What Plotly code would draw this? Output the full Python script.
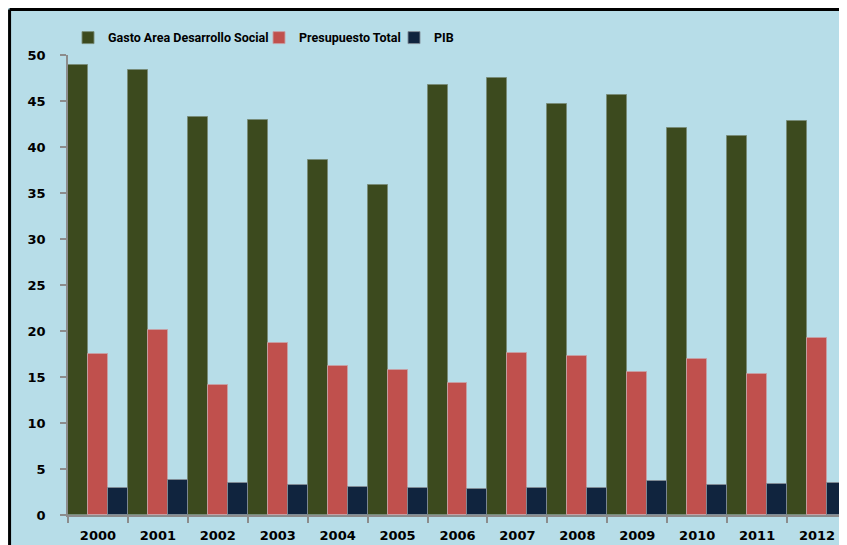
import plotly.graph_objects as go

years = ["2000", "2001", "2002", "2003", "2004", "2005", "2006",
         "2007", "2008", "2009", "2010", "2011", "2012"]
gasto_social = [48.9, 48.4, 43.3, 42.9, 38.6, 35.9, 46.7, 47.5, 44.7, 45.7, 42.1, 41.2, 42.8]
presupuesto_total = [17.5, 20.1, 14.1, 18.7, 16.2, 15.8, 14.3, 17.6, 17.3, 15.5, 17.0, 15.3, 19.2]
pib = [2.97, 3.77, 3.48, 3.30, 3.08, 2.97, 2.83, 2.90, 2.97, 3.70, 3.26, 3.33, 3.44]

BG = "#B7DDE8"
AXIS = "#8C8C8C"

series = [
    ("Gasto Area Desarrollo Social", gasto_social, "#3C4A1E", "rgba(120,140,120,0.9)", 146),
    ("Presupuesto Total", presupuesto_total, "#C0504D", "rgba(200,160,165,0.9)", 90),
    ("PIB", pib, "#10243E", "rgba(130,140,150,0.9)", 30),
]

fig = go.Figure()
for name, values, color, edge, lw in series:
    fig.add_trace(go.Bar(
        x=years, y=values, name=name, legendwidth=lw,
        marker=dict(color=color, line=dict(color=edge, width=1)),
    ))

# black frame on the top and left edges of the chart
fig.add_shape(type="line", xref="paper", yref="paper",
              x0=-0.075, x1=1.2, y0=1.099, y1=1.099, line=dict(color="black", width=3))
fig.add_shape(type="line", xref="paper", yref="paper",
              x0=-0.075, x1=-0.075, y0=1.099, y1=-0.2, line=dict(color="black", width=3))

fig.update_layout(
    width=839, height=537,
    margin=dict(l=60, r=0, t=47, b=30),
    paper_bgcolor=BG,
    plot_bgcolor=BG,
    barmode="group", bargap=0, bargroupgap=0,
    font=dict(family="DejaVu Sans", size=13, color="black"),
    showlegend=True,
    legend=dict(
        orientation="h", x=0.0, xanchor="left", y=1.037, yanchor="middle",
        bgcolor="rgba(0,0,0,0)",
        font=dict(family="Roboto", size=12.5, weight="bold"),
        itemwidth=30,
    ),
)
fig.update_xaxes(
    showline=True, linecolor=AXIS, linewidth=1.5,
    ticks="outside", tickson="boundaries", ticklen=6, tickcolor=AXIS, tickwidth=1.5,
    tickfont=dict(family="DejaVu Sans", size=13, weight="bold"),
    ticklabelstandoff=8,
    showgrid=False,
)
fig.update_yaxes(
    range=[0, 50], dtick=5,
    showline=True, linecolor=AXIS, linewidth=1.5,
    ticks="outside", ticklen=6, tickcolor=AXIS, tickwidth=1.5,
    tickfont=dict(family="DejaVu Sans", size=13, weight="bold"),
    ticklabelstandoff=12,
    showgrid=False, zeroline=False,
)

fig.write_html("out.html")
